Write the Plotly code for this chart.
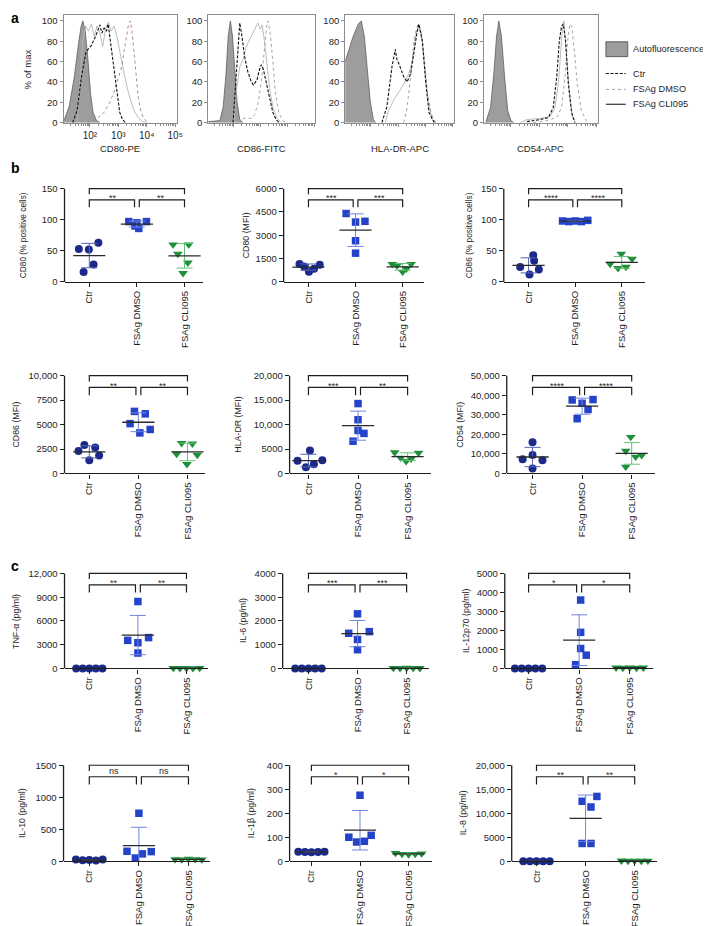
import numpy as np
import plotly.graph_objects as go

W, H = 711, 926
FONT = "Liberation Sans, Arial, Helvetica, sans-serif"
INK = "#1e1e1e"

# ======================= DATA =======================
# ---- panel a: flow histograms (x = log10 fluorescence, y = % of max) ----
hist_names = ["CD80-PE", "CD86-FITC", "HLA-DR-APC", "CD54-APC"]
hist_ytick_vals = [0, 20, 40, 60, 80, 100]
hist_xtick_vals = [2, 3, 4, 5]
hist_xtick_text = ["10²", "10³", "10⁴", "10⁵"]
legend_labels = ["Autofluorescence", "Ctr", "FSAg DMSO", "FSAg CLI095"]

cd80_af_x = [1.07, 1.10, 1.27, 1.45, 1.60, 1.69, 1.75, 1.83, 1.93, 2.02, 2.11, 2.23, 2.35]
cd80_af_y = [4, 3, 16, 45, 78, 95, 100, 91, 62, 29, 10, 2, 0]
cd80_ctr_x = [1.39, 1.55, 1.70, 1.85, 1.93, 2.05, 2.20, 2.30, 2.35, 2.42, 2.50, 2.58, 2.64, 2.72, 2.80, 2.88, 2.96, 3.05, 3.15, 3.25]
cd80_ctr_y = [0, 12, 45, 68, 72, 76, 85, 92, 96, 88, 93, 90, 97, 80, 62, 45, 25, 10, 3, 0]
cd80_cli_x = [1.55, 1.65, 1.75, 1.85, 1.95, 2.05, 2.15, 2.25, 2.35, 2.45, 2.55, 2.65, 2.75, 2.85, 2.95, 3.05, 3.15, 3.25, 3.35, 3.45, 3.55, 3.70, 3.85, 4.00]
cd80_cli_y = [0, 40, 80, 95, 90, 97, 85, 95, 88, 75, 92, 99, 90, 95, 85, 70, 55, 42, 30, 20, 12, 5, 1, 0]
cd80_dmso_x = [1.90, 2.20, 2.50, 2.70, 2.85, 2.95, 3.05, 3.12, 3.20, 3.28, 3.35, 3.42, 3.48, 3.55, 3.62, 3.70, 3.80, 3.90, 4.00, 4.10]
cd80_dmso_y = [0, 3, 10, 20, 30, 40, 50, 55, 70, 85, 95, 100, 90, 70, 45, 25, 10, 4, 1, 0]

cd86_af_x = [1.07, 1.50, 1.62, 1.72, 1.81, 1.89, 1.97, 2.05, 2.14, 2.24, 2.36]
cd86_af_y = [1, 2, 15, 45, 85, 100, 85, 50, 20, 3, 0]
cd86_ctr_x = [1.99, 2.11, 2.20, 2.24, 2.32, 2.42, 2.54, 2.67, 2.75, 2.88, 2.97, 3.04, 3.12, 3.22, 3.34, 3.47, 3.59, 3.71]
cd86_ctr_y = [0, 50, 90, 98, 85, 65, 50, 40, 37, 42, 52, 57, 52, 40, 25, 10, 3, 0]
cd86_cli_x = [2.03, 2.11, 2.24, 2.36, 2.48, 2.61, 2.73, 2.83, 2.91, 3.00, 3.07, 3.16, 3.26, 3.34, 3.47, 3.61, 3.77]
cd86_cli_y = [0, 30, 55, 62, 75, 82, 88, 95, 98, 92, 96, 80, 55, 35, 15, 5, 0]
cd86_dmso_x = [2.18, 2.30, 2.48, 2.67, 2.79, 2.91, 3.04, 3.16, 3.24, 3.29, 3.37, 3.47, 3.56, 3.69, 3.83, 3.96]
cd86_dmso_y = [0, 3, 5, 4, 8, 18, 40, 75, 95, 100, 88, 60, 30, 10, 2, 0]

hla_af_x = [1.07, 1.18, 1.365, 1.55, 1.66, 1.77, 1.88, 1.99, 2.10, 2.18]
hla_af_y = [60, 70, 85, 97, 100, 85, 50, 20, 3, 0]
hla_ctr_x = [2.41, 2.59, 2.78, 2.90, 2.96, 3.03, 3.21, 3.33, 3.46, 3.58, 3.70, 3.76, 3.89, 4.01, 4.13, 4.32]
hla_ctr_y = [0, 15, 55, 72, 62, 58, 45, 40, 48, 70, 90, 97, 80, 40, 10, 0]
hla_cli_x = [2.53, 2.66, 2.84, 3.03, 3.21, 3.39, 3.52, 3.64, 3.76, 3.86, 3.97, 4.10, 4.25, 4.38]
hla_cli_y = [0, 12, 22, 30, 38, 48, 60, 85, 95, 85, 55, 20, 3, 0]
hla_dmso_x = [3.21, 3.33, 3.48, 3.60, 3.73, 3.83, 3.95, 4.07, 4.22, 4.38]
hla_dmso_y = [0, 15, 50, 85, 97, 92, 65, 30, 8, 0]

cd54_af_x = [1.13, 1.30, 1.42, 1.51, 1.59, 1.68, 1.79, 1.90, 2.01, 2.11]
cd54_af_y = [0, 15, 50, 85, 100, 85, 45, 12, 2, 0]
cd54_ctr_x = [2.57, 3.03, 3.32, 3.49, 3.61, 3.70, 3.78, 3.84, 3.92, 4.01, 4.13, 4.24]
cd54_ctr_y = [1, 3, 5, 15, 45, 80, 95, 97, 80, 40, 10, 0]
cd54_cli_x = [2.34, 2.57, 3.03, 3.38, 3.55, 3.67, 3.75, 3.81, 3.86, 3.95, 4.05, 4.16, 4.28]
cd54_cli_y = [0, 3, 4, 6, 15, 40, 70, 92, 100, 70, 30, 5, 0]
cd54_dmso_x = [2.80, 3.26, 3.61, 3.78, 3.90, 3.99, 4.07, 4.13, 4.21, 4.32, 4.47, 4.64, 4.76]
cd54_dmso_y = [0, 2, 5, 15, 45, 80, 97, 95, 75, 40, 12, 2, 0]

# ---- panels b, c: dot plots (5 donors per group) ----
cat_labels = ["Ctr", "FSAg DMSO", "FSAg CLI095"]

cd80pct_ctr = [53, 52, 63, 28, 16]
cd80pct_dmso = [97, 97, 95, 90, 86]
cd80pct_cli = [60, 60, 45, 31, 14]
cd80pct_ticks = [0, 50, 100, 150]
cd80pct_ticklabels = ["0", "50", "100", "150"]
cd80pct_sig = ["**", "**"]

cd80mfi_ctr = [1150, 1000, 650, 850, 1100]
cd80mfi_dmso = [4400, 3850, 3900, 2650, 1850]
cd80mfi_cli = [1150, 1050, 650, 850, 1150]
cd80mfi_ticks = [0, 1500, 3000, 4500, 6000]
cd80mfi_ticklabels = ["0", "1500", "3000", "4500", "6000"]
cd80mfi_sig = ["***", "***"]

cd86pct_ctr = [43, 34, 24, 20, 12]
cd86pct_dmso = [98, 97, 98, 97, 99]
cd86pct_cli = [45, 37, 29, 22, 24]
cd86pct_ticks = [0, 50, 100, 150]
cd86pct_ticklabels = ["0", "50", "100", "150"]
cd86pct_sig = ["****", "****"]

cd86mfi_ctr = [2900, 2650, 2300, 1850, 1350]
cd86mfi_dmso = [6350, 6100, 5100, 4500, 4150]
cd86mfi_cli = [3100, 3050, 2000, 1900, 950]
cd86mfi_ticks = [0, 2500, 5000, 7500, 10000]
cd86mfi_ticklabels = ["0", "2500", "5000", "7500", "10,000"]
cd86mfi_sig = ["**", "**"]

hladr_ctr = [4700, 2600, 2700, 1900, 1250]
hladr_dmso = [14300, 11000, 8800, 8200, 6600]
hladr_cli = [4300, 3200, 2500, 3000, 4200]
hladr_ticks = [0, 5000, 10000, 15000, 20000]
hladr_ticklabels = ["0", "5000", "10,000", "15,000", "20,000"]
hladr_sig = ["***", "**"]

cd54_ctr = [16000, 9500, 7300, 6800, 2500]
cd54_dmso = [37600, 37800, 35900, 32700, 28000]
cd54_cli = [18600, 11500, 8500, 9300, 3400]
cd54_ticks = [0, 10000, 20000, 30000, 40000, 50000]
cd54_ticklabels = ["0", "10,000", "20,000", "30,000", "40,000", "50,000"]
cd54_sig = ["****", "****"]

tnf_ctr = [0, 0, 0, 0, 0]
tnf_dmso = [8450, 3550, 3900, 3250, 1950]
tnf_cli = [50, 30, 40, 20, 60]
tnf_ticks = [0, 3000, 6000, 9000, 12000]
tnf_ticklabels = ["0", "3000", "6000", "9000", "12,000"]
tnf_sig = ["**", "**"]

il6_ctr = [0, 0, 0, 0, 0]
il6_dmso = [2300, 1480, 1550, 1220, 790]
il6_cli = [20, 15, 25, 20, 15]
il6_ticks = [0, 1000, 2000, 3000, 4000]
il6_ticklabels = ["0", "1000", "2000", "3000", "4000"]
il6_sig = ["***", "***"]

il12_ctr = [0, 0, 0, 0, 0]
il12_dmso = [3600, 1900, 1050, 700, 200]
il12_cli = [40, 30, 50, 30, 40]
il12_ticks = [0, 1000, 2000, 3000, 4000, 5000]
il12_ticklabels = ["0", "1000", "2000", "3000", "4000", "5000"]
il12_sig = ["*", "*"]

il10_ctr = [25, 15, 20, 10, 25]
il10_dmso = [750, 155, 115, 150, 50]
il10_cli = [30, 25, 35, 30, 25]
il10_ticks = [0, 500, 1000, 1500]
il10_ticklabels = ["0", "500", "1000", "1500"]
il10_sig = ["ns", "ns"]

il1b_ctr = [39, 38, 37, 38, 39]
il1b_dmso = [275, 100, 108, 80, 83]
il1b_cli = [34, 30, 28, 30, 32]
il1b_ticks = [0, 100, 200, 300, 400]
il1b_ticklabels = ["0", "100", "200", "300", "400"]
il1b_sig = ["*", "*"]

il8_ctr = [0, 0, 0, 0, 0]
il8_dmso = [13500, 12500, 11300, 3700, 3700]
il8_cli = [100, 60, 80, 50, 90]
il8_ticks = [0, 5000, 10000, 15000, 20000]
il8_ticklabels = ["0", "5000", "10,000", "15,000", "20,000"]
il8_sig = ["**", "**"]

# horizontal scatter of the dots inside each group (category units)
row5 = [-0.27, -0.135, 0.0, 0.135, 0.27]
cd80pct_jit = ([-0.22, -0.01, 0.19, 0.09, -0.12], [-0.17, 0.20, 0.0, -0.04, 0.04], [-0.24, 0.09, -0.14, 0.07, -0.03])
cd80mfi_jit = ([-0.19, -0.09, 0.01, 0.12, 0.24], [-0.20, 0.0, 0.20, 0.0, 0.0], [-0.22, -0.12, 0.0, 0.08, 0.18])
cd86pct_jit = ([0.10, 0.12, -0.18, 0.22, 0.02], row5, [-0.01, 0.22, -0.25, -0.08, 0.09])
cd86mfi_jit = ([-0.10, 0.12, -0.22, 0.20, 0.0], [-0.08, 0.14, -0.17, 0.24, 0.03], [-0.12, 0.10, -0.22, 0.20, -0.01])
hladr_jit = ([0.03, -0.22, 0.28, 0.11, -0.05], [0.0, 0.0, 0.0, 0.12, -0.10], [-0.26, -0.14, -0.03, 0.07, 0.22])
cd54_jit = ([0.0, 0.0, -0.20, 0.20, 0.0], [-0.20, 0.22, 0.0, 0.12, -0.10], [-0.02, -0.12, 0.08, 0.20, -0.12])
tnf_jit = (row5, [0.0, -0.21, 0.22, 0.0, 0.0], row5)
il6_jit = (row5, [0.0, -0.18, 0.24, 0.0, 0.0], row5)
il12_jit = (row5, [0.03, 0.03, 0.03, 0.14, -0.07], row5)
il10_jit = (row5, [0.0, -0.24, 0.07, 0.25, -0.07], row5)
il1b_jit = (row5, [0.0, -0.23, 0.23, -0.07, 0.09], row5)
il8_jit = (row5, [0.23, -0.07, 0.11, -0.07, 0.11], row5)

# ======================= STYLE / GEOMETRY =======================
AF_FILL, AF_LINE = "#9d9d9d", "#505050"
CTR_LINE = "#111111"
CLI_LINE = "#b4b4b4"
DMSO_LINE = ["#b08585", "#a3a3a3", "#a3a3a3", "#a3a3a3"]

GROUP_COL = ["#1b2a8a", "#2443c9", "#1f8f3a"]
GROUP_ERR = ["#5663b8", "#6f85e2", "#63c076"]
GROUP_SYM = ["circle", "square", "triangle-down"]
GROUP_SIZE = [8, 7.5, 8.5]
MEAN_COL = "#2a2a2a"

hist_px = [(56, 170), (202, 310), (340, 450), (480, 595)]
HIST_TOP, HIST_ZERO, HIST_YMAX = 5.0, 113.5, 106

R1, R2, R3, R4 = (180, 274), (368.5, 467), (567.7, 663.5), (761, 857.7)

fig = go.Figure()
layout = {}
shapes = []
annotations = []


def names(n):
    s = "" if n == 1 else str(n)
    return "xaxis" + s, "yaxis" + s, "x" + s, "y" + s


def py(p):
    return 1 - p / H


def px(p):
    return p / W


# ---------------- panel a ----------------
hist_sets = [
    (cd80_af_x, cd80_af_y, cd80_cli_x, cd80_cli_y, cd80_dmso_x, cd80_dmso_y, cd80_ctr_x, cd80_ctr_y),
    (cd86_af_x, cd86_af_y, cd86_cli_x, cd86_cli_y, cd86_dmso_x, cd86_dmso_y, cd86_ctr_x, cd86_ctr_y),
    (hla_af_x, hla_af_y, hla_cli_x, hla_cli_y, hla_dmso_x, hla_dmso_y, hla_ctr_x, hla_ctr_y),
    (cd54_af_x, cd54_af_y, cd54_cli_x, cd54_cli_y, cd54_dmso_x, cd54_dmso_y, cd54_ctr_x, cd54_ctr_y),
]
minor_vals = [float(np.log10(k * 10.0 ** d)) for d in range(1, 5) for k in range(2, 10)]
minor_vals = [v for v in minor_vals if 1.07 < v < 5.05]

for i, hs in enumerate(hist_sets):
    n = i + 1
    xa, ya, xr, yr = names(n)
    x0, x1 = hist_px[i]
    afx, afy, clx, cly, dmx, dmy, ctx, cty = hs
    fig.add_trace(go.Scatter(x=afx, y=afy, xaxis=xr, yaxis=yr, mode="lines", fill="tozeroy",
                             fillcolor=AF_FILL, line=dict(color=AF_LINE, width=0.7), hoverinfo="skip"))
    fig.add_trace(go.Scatter(x=clx, y=cly, xaxis=xr, yaxis=yr, mode="lines",
                             line=dict(color=CLI_LINE, width=0.9), hoverinfo="skip"))
    fig.add_trace(go.Scatter(x=dmx, y=dmy, xaxis=xr, yaxis=yr, mode="lines",
                             line=dict(color=DMSO_LINE[i], width=1.0, dash="dot"), hoverinfo="skip"))
    fig.add_trace(go.Scatter(x=ctx, y=cty, xaxis=xr, yaxis=yr, mode="lines",
                             line=dict(color=CTR_LINE, width=1.1, dash="3px,1.6px"), hoverinfo="skip"))
    xaxis_def = dict(domain=[px(x0), px(x1)], range=[1.07, 5.05], anchor=yr,
                     showline=True, mirror=True, linecolor="#8c8c8c", linewidth=1,
                     showgrid=False, zeroline=False, ticks="outside", ticklen=3, tickcolor="#8c8c8c",
                     tickvals=hist_xtick_vals, showticklabels=(i == 0),
                     tickfont=dict(size=10, color=INK),
                     minor=dict(tickvals=minor_vals, ticks="outside", ticklen=2, tickcolor="#8c8c8c"))
    if i == 0:
        xaxis_def["ticktext"] = hist_xtick_text
    layout[xa] = xaxis_def
    top_px = HIST_ZERO - HIST_YMAX * (HIST_ZERO - 11.0) / 100
    layout[ya] = dict(domain=[py(HIST_ZERO), py(top_px)], range=[0, HIST_YMAX], anchor=xr,
                      showline=True, mirror=True, linecolor="#8c8c8c", linewidth=1,
                      showgrid=False, zeroline=False, ticks="outside", ticklen=3, tickcolor="#8c8c8c",
                      tickvals=hist_ytick_vals, tickfont=dict(size=9.5, color=INK))
    annotations.append(dict(x=px((x0 + x1) / 2), y=py(140), xref="paper", yref="paper", text=hist_names[i],
                            showarrow=False, font=dict(size=9.5, color=INK), xanchor="center", yanchor="middle"))

annotations.append(dict(x=px(20), y=py(60), xref="paper", yref="paper", text="% of max", textangle=-90,
                        showarrow=False, font=dict(size=9.5, color=INK), xanchor="center", yanchor="middle"))

# legend (drawn)
shapes.append(dict(type="rect", xref="paper", yref="paper", x0=px(603), x1=px(625), y0=py(47), y1=py(32),
                   fillcolor=AF_FILL, line=dict(color="#444444", width=0.8)))
leg_y = [39.5, 64, 80, 95]
leg_styles = [None, dict(color=CTR_LINE, width=1.1, dash="3px,1.6px"),
              dict(color="#a3a3a3", width=1.0, dash="dot"), dict(color="#333333", width=1.2)]
for k in range(4):
    if k > 0:
        shapes.append(dict(type="line", xref="paper", yref="paper", x0=px(603), x1=px(623),
                           y0=py(leg_y[k]), y1=py(leg_y[k]), line=leg_styles[k]))
    annotations.append(dict(x=px(628), y=py(leg_y[k]), xref="paper", yref="paper",
                            text=legend_labels[k], showarrow=False, font=dict(size=9.2, color=INK),
                            xanchor="left", yanchor="middle"))

# ---------------- panels b and c ----------------
panels = [
    # data, ticks, labels, sig, jitter, title, title size, title x, (axis x, Ctr x, CLI x, end x), row
    ((cd80pct_ctr, cd80pct_dmso, cd80pct_cli), cd80pct_ticks, cd80pct_ticklabels, cd80pct_sig, cd80pct_jit,
     "CD80 (% positive cells)", 8.3, 15, (57, 82, 178, 197), R1),
    ((cd80mfi_ctr, cd80mfi_dmso, cd80mfi_cli), cd80mfi_ticks, cd80mfi_ticklabels, cd80mfi_sig, cd80mfi_jit,
     "CD80 (MFI)", 8.8, 240, (278, 303, 398, 420), R1),
    ((cd86pct_ctr, cd86pct_dmso, cd86pct_cli), cd86pct_ticks, cd86pct_ticklabels, cd86pct_sig, cd86pct_jit,
     "CD86 (% positive cells)", 8.3, 465, (500, 525, 619, 642), R1),
    ((cd86mfi_ctr, cd86mfi_dmso, cd86mfi_cli), cd86mfi_ticks, cd86mfi_ticklabels, cd86mfi_sig, cd86mfi_jit,
     "CD86 (MFI)", 8.8, 8, (57, 82, 181, 199), R2),
    ((hladr_ctr, hladr_dmso, hladr_cli), hladr_ticks, hladr_ticklabels, hladr_sig, hladr_jit,
     "HLA-DR (MFI)", 8.8, 232, (284, 303, 403, 427), R2),
    ((cd54_ctr, cd54_dmso, cd54_cli), cd54_ticks, cd54_ticklabels, cd54_sig, cd54_jit,
     "CD54 (MFI)", 8.8, 455, (503, 529, 629, 653), R2),
    ((tnf_ctr, tnf_dmso, tnf_cli), tnf_ticks, tnf_ticklabels, tnf_sig, tnf_jit,
     "TNF-α (pg/ml)", 8.8, 8, (57, 82, 180, 202), R3),
    ((il6_ctr, il6_dmso, il6_cli), il6_ticks, il6_ticklabels, il6_sig, il6_jit,
     "IL-6 (pg/ml)", 8.8, 237, (277, 303, 402, 425), R3),
    ((il12_ctr, il12_dmso, il12_cli), il12_ticks, il12_ticklabels, il12_sig, il12_jit,
     "IL-12p70 (pg/ml)", 8.8, 462, (501, 525, 627, 650), R3),
    ((il10_ctr, il10_dmso, il10_cli), il10_ticks, il10_ticklabels, il10_sig, il10_jit,
     "IL-10 (pg/ml)", 8.8, 14, (56, 82, 182, 204), R4),
    ((il1b_ctr, il1b_dmso, il1b_cli), il1b_ticks, il1b_ticklabels, il1b_sig, il1b_jit,
     "IL-1β (pg/ml)", 8.8, 245, (284, 306, 404, 428), R4),
    ((il8_ctr, il8_dmso, il8_cli), il8_ticks, il8_ticklabels, il8_sig, il8_jit,
     "IL-8 (pg/ml)", 8.8, 459, (508, 533, 632, 655), R4),
]

EXT = 0.04
for j, (data, ticks, tlabels, sig, jit, title, tsize, tx, geo, row) in enumerate(panels):
    n = 5 + j
    xa, ya, xr, yr = names(n)
    axx, c0, c2, endx = geo
    top_t, zero_p = row
    T = ticks[-1]
    s = (c2 - c0) / 2.0
    lo = (axx - c0) / s
    hi = 2 + (endx - c2) / s
    dom_top = top_t - EXT * (zero_p - top_t)
    layout[xa] = dict(domain=[px(axx), px(endx)], range=[lo, hi], anchor=yr,
                      tickvals=[0, 1, 2], ticktext=cat_labels, tickangle=-90,
                      ticks="outside", ticklen=4, tickwidth=1.1, tickcolor=INK,
                      showline=True, linecolor=INK, linewidth=1.3,
                      showgrid=False, zeroline=False, tickfont=dict(size=9.5, color=INK))
    layout[ya] = dict(domain=[py(zero_p), py(dom_top)], range=[0, T * (1 + EXT)], anchor=xr,
                      tickvals=ticks, ticktext=tlabels, ticks="outside", ticklen=4, tickwidth=1.1,
                      tickcolor=INK, showline=False, showgrid=False, zeroline=False,
                      tickfont=dict(size=9.5, color=INK))
    shapes.append(dict(type="line", xref=xr + " domain", yref=yr, x0=0, x1=0, y0=0, y1=T,
                       line=dict(color=INK, width=1.3)))

    for g in range(3):
        vals = np.array(data[g], dtype=float)
        xs = [g + d for d in jit[g]]
        fig.add_trace(go.Scatter(x=xs, y=vals, xaxis=xr, yaxis=yr, mode="markers", cliponaxis=False,
                                 marker=dict(symbol=GROUP_SYM[g], size=GROUP_SIZE[g], color=GROUP_COL[g],
                                             line=dict(width=0)), hoverinfo="skip"))
    for g in range(3):
        vals = np.array(data[g], dtype=float)
        m = float(vals.mean())
        sd = float(vals.std(ddof=1))
        fig.add_trace(go.Scatter(x=[g], y=[m], xaxis=xr, yaxis=yr, mode="markers", cliponaxis=False,
                                 marker=dict(symbol="line-ew", size=23, color=MEAN_COL,
                                             line=dict(color=MEAN_COL, width=1.3)),
                                 error_y=dict(type="data", array=[sd], visible=True, color=GROUP_ERR[g],
                                              thickness=1, width=8),
                                 hoverinfo="skip"))

    # significance brackets
    bl = dict(color=INK, width=1.2)
    shapes.append(dict(type="path", xref=xr, yref=yr, line=bl,
                       path=f"M 0,{0.94*T} L 0,{T} L 2,{T} L 2,{0.94*T}"))
    shapes.append(dict(type="path", xref=xr, yref=yr, line=bl,
                       path=f"M 0,{0.80*T} L 0,{0.88*T} L 0.95,{0.88*T} L 0.95,{0.80*T}"))
    shapes.append(dict(type="path", xref=xr, yref=yr, line=bl,
                       path=f"M 1.05,{0.80*T} L 1.05,{0.88*T} L 2,{0.88*T} L 2,{0.80*T}"))
    annotations.append(dict(x=1, y=1.08 * T, xref=xr, yref=yr, text="ns", showarrow=False,
                            font=dict(size=9.5, color=INK), xanchor="center", yanchor="middle"))
    for k, xc in enumerate([0.5, 1.5]):
        txt = sig[k]
        yv = 0.935 * T if txt == "ns" else 0.895 * T
        annotations.append(dict(x=xc, y=yv, xref=xr, yref=yr, text=txt, showarrow=False,
                                font=dict(size=9, color=INK), xanchor="center", yanchor="middle"))
    annotations.append(dict(x=px(tx), y=py((top_t + zero_p) / 2), xref="paper", yref="paper", text=title,
                            textangle=-90, showarrow=False, font=dict(size=tsize, color=INK),
                            xanchor="center", yanchor="middle"))

# panel letters
for letter, ly in [("a", 8), ("b", 159), ("c", 560)]:
    annotations.append(dict(x=px(1), y=py(ly), xref="paper", yref="paper", text=f"<b>{letter}</b>",
                            showarrow=False, font=dict(size=14, color="#000000"),
                            xanchor="left", yanchor="middle"))

fig.update_layout(width=W, height=H, margin=dict(l=0, r=0, t=0, b=0), showlegend=False,
                  paper_bgcolor="white", plot_bgcolor="white",
                  font=dict(family=FONT, size=9.5, color=INK),
                  shapes=shapes, annotations=annotations, **layout)
fig.write_html("out.html")
